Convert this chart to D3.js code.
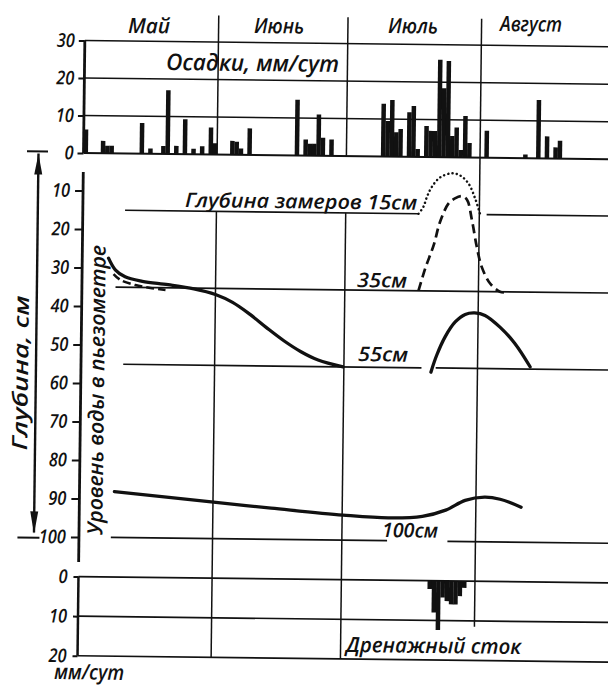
<!DOCTYPE html>
<html><head><meta charset="utf-8">
<script src="https://cdn.jsdelivr.net/npm/d3@7/dist/d3.min.js"></script>
<style>
 html,body{margin:0;padding:0;background:#fff;overflow:hidden;}
 svg{display:block;}
 text{font-family:"Open Sans","DejaVu Sans",sans-serif;font-style:italic;font-weight:600;fill:#111;}
</style></head><body>
<svg id="chart" width="608" height="688" viewBox="0 0 608 688"></svg>
<script>
// ---------------- data ----------------
const monthNames = ["Май", "Июнь", "Июль", "Август"];
const monthStartDay = [0, 31, 61, 92];          // day index from 1 May

const precipDay = [0,4,5,6,13,15,18,19,21,23,25,27,29,30,
                   34,35,36,38,49,51,52,53,54,55,57,
                   69,70,71,72,73,75,76,77,79,80,81,82,83,84,85,86,87,88,89,
                   93,102,105,107,109,110];
const precipMm  = [6.3,3.3,2.0,2.0,8.2,1.4,2.1,17.0,2.2,9.3,1.5,2.2,7.2,3.0,
                   3.7,3.5,1.7,7.1,14.9,4.3,3.2,3.2,11.0,4.8,4.4,
                   14.1,9.5,15.1,6.5,7.4,11.9,13.6,2.1,8.3,7.0,7.0,26.0,18.4,25.7,5.7,8.0,2.0,11.1,3.9,
                   7.2,1.0,15.6,5.9,3.0,4.8];

const drainDay = [81,82,83,84,85,86,87,88,89];
const drainMm  = [2.1,8.0,12.4,4.2,5.1,5.9,5.9,3.8,1.7];

const precipTicks = [0,10,20,30];
const depthTicks  = [10,20,30,40,50,60,70,80,90,100];
const drainTicks  = [0,10,20];

const levelDepths = [15,35,55,100];
const levelLabels = ["Глубина замеров 15см","35см","55см","100см"];
const levelSegments = [
  [[9.8,77.9],[93.7,125]],
  [[7.8,125]],
  [[9.8,79.0],[82.3,125]],
  [[7.4,71.5],[85.5,125]]
];

// piezometer water levels (day, depth cm)
const pz55EarlyDay   = [6.1,7.7,10,14,20,26,31,35,39,43,47,51,55,60.8];
const pz55EarlyDepth = [27.5,30.5,32.3,33.4,34.2,35.2,36.6,38.6,41.6,45.1,48.4,51.2,53.3,55.0];
const pz35EarlyDay   = [7.3,8.9,12.4,15.9,19.4];
const pz35EarlyDepth = [31.6,33.1,34.4,35.1,35.6];
const pz15Day   = [77.9,79.0,79.8,80.9,82.8,85.5,87.4,89.4,91.0,92.2];
const pz15Depth = [15,13.2,10.6,8.0,5.5,4.4,4.9,7.0,10.9,15];
const pz35Day   = [78.1,79.6,81.5,82.9,84.8,86.3,87.9,89.1,90.3,91.5,92.7,94.7,97.0,98.5];
const pz35Depth = [35,29.2,23.1,17.1,12.3,10.9,10.3,11.2,16.5,23.4,28.6,32.9,35.0,35.2];
const pz55Day   = [81.2,82.5,84.4,86.7,89.0,91.2,93.6,97.1,100.6,104.2];
const pz55Depth = [56.1,51.7,46.9,43.0,41.0,40.6,41.2,44.2,48.4,54.4];
const pz100Day   = [8.1,30.6,44.5,61.2,71.7,79.6,85.0,89.5,94.0,97.6,102.5];
const pz100Depth = [88.1,90.5,91.9,93.5,94.1,93.6,91.9,89.3,88.4,88.9,90.9];

// ---------------- layout ----------------
const svg = d3.select("#chart");
const ROT = 0.68;                 // slight skew of the scanned original
const g = svg.append("g").attr("transform", `rotate(${ROT},83,153)`);

const x  = d3.scaleLinear().domain([0, 122]).range([83.5, 83.5 + 4.31 * 122]);
const yP = d3.scaleLinear().domain([0, 30]).range([153, 40.5]);
const yD = d3.scaleLinear().domain([0, 100]).range([152, 537]);
const yB = d3.scaleLinear().domain([0, 20]).range([576.6, 655.8]);
const XEND = x(126);
const INK = "#111";

function hline(y, x1, x2, w) {
  g.append("line").attr("x1", x1).attr("x2", x2).attr("y1", y).attr("y2", y)
    .attr("stroke", INK).attr("stroke-width", w);
}
function vline(xx, y1, y2, w) {
  g.append("line").attr("x1", xx).attr("x2", xx).attr("y1", y1).attr("y2", y2)
    .attr("stroke", INK).attr("stroke-width", w);
}

// precipitation grid
precipTicks.forEach(v => hline(yP(v), x(0), XEND, v === 0 ? 2 : 1.6));
// drainage grid
drainTicks.forEach(v => hline(yB(v), x(0), XEND, 1.7));

// month separators
monthStartDay.slice(1).forEach((d, i) => {
  if (d === 92) {
    vline(x(d), 14, yB(11.5), 1.5);
  } else {
    vline(x(d), 14, yP(0), 1.5);
    vline(x(d), yD(15), yB(20), 1.5);
  }
});

// measurement depth lines
levelDepths.forEach((dep, i) => {
  levelSegments[i].forEach(s => hline(yD(dep), x(s[0]), x(s[1]), 1.7));
});

// precipitation bars
g.append("g").selectAll("rect").data(precipDay).join("rect")
  .attr("x", d => x(d)).attr("width", d => x(d + 1) - x(d) + 0.2)
  .attr("y", (d, i) => yP(precipMm[i]))
  .attr("height", (d, i) => yP(0) - yP(precipMm[i]))
  .attr("fill", INK);

// drainage bars (hanging down)
g.append("g").selectAll("rect").data(drainDay).join("rect")
  .attr("x", d => x(d)).attr("width", d => x(d + 1) - x(d) + 0.2)
  .attr("y", yB(0))
  .attr("height", (d, i) => yB(drainMm[i]) - yB(0))
  .attr("fill", INK);

// piezometer curves
function curve(days, depths, w, dash, cap) {
  const line = d3.line().x(d => x(d[0])).y(d => yD(d[1])).curve(d3.curveCatmullRom.alpha(0.5));
  g.append("path").attr("d", line(days.map((d, i) => [d, depths[i]])))
    .attr("fill", "none").attr("stroke", INK).attr("stroke-width", w)
    .attr("stroke-dasharray", dash).attr("stroke-linecap", cap || "butt");
}
curve(pz55EarlyDay, pz55EarlyDepth, 3.3, null, "round");
curve(pz35EarlyDay, pz35EarlyDepth, 2.5, "8,4");
curve(pz15Day, pz15Depth, 2.5, "0.1,4.2", "round");
curve(pz35Day, pz35Depth, 2.7, "9,5");
curve(pz55Day, pz55Depth, 3.3, null, "round");
curve(pz100Day, pz100Depth, 3.3, null, "round");

// axes
function styleAxis(sel) {
  sel.select(".domain").remove();
  sel.selectAll(".tick line").attr("stroke", INK).attr("stroke-width", 2);
  sel.selectAll(".tick text").attr("font-size", 19)
    .attr("textLength", d => String(d).length * 9)
    .attr("lengthAdjust", "spacingAndGlyphs");
}
g.append("g").attr("transform", `translate(${x(0)},0)`)
  .call(d3.axisLeft(yP).tickValues(precipTicks).tickSize(6).tickPadding(4).tickFormat(d3.format("d")))
  .call(styleAxis);
g.append("g").attr("transform", `translate(${x(0)},0)`)
  .call(d3.axisLeft(yD).tickValues(depthTicks).tickSize(8).tickPadding(5).tickFormat(d3.format("d")))
  .call(styleAxis);
g.append("g").attr("transform", `translate(${x(0)},0)`)
  .call(d3.axisLeft(yB).tickValues(drainTicks).tickSize(5).tickPadding(6).tickFormat(d3.format("d")))
  .call(styleAxis);

vline(x(0), yP(30), yP(0), 2.8);
vline(x(0), yD(5.2), yD(106.5), 2.8);
vline(x(0), yB(0), yB(20), 2.5);

// outer depth arrow
const AX = 38.5;
vline(AX, yD(0.5), yD(99), 2.4);
hline(yD(0), 27, 48, 2);
hline(yD(100.3), 22, 44, 2);
g.append("path").attr("d", `M${AX},${yD(0.6)} L${AX-4},${yD(6)} L${AX+4},${yD(6)} Z`).attr("fill", INK);
g.append("path").attr("d", `M${AX},${yD(99.3)} L${AX-4},${yD(93.5)} L${AX+4},${yD(93.5)} Z`).attr("fill", INK);

// ---------------- texts (placed at picture positions) ----------------
function label(txt, tx, ty, size, len, rot90) {
  const t = svg.append("text").attr("x", tx).attr("y", ty).attr("font-size", size)
    .attr("textLength", len).attr("lengthAdjust", "spacingAndGlyphs").text(txt);
  if (rot90) t.attr("text-anchor", "middle").attr("transform", `rotate(${-90 + ROT},${tx},${ty})`);
  else t.attr("transform", `rotate(${ROT},${tx},${ty})`);
  return t;
}
const monthCenters = [149, 279, 413, 531];
const monthWidths = [42, 50, 50, 62];
monthNames.forEach((m, i) => {
  label(m, monthCenters[i] - monthWidths[i] / 2, i === 3 ? 31 : 33, 21, monthWidths[i]);
});
label("Осадки, мм/сут", 166, 70, 23, 173);
label(levelLabels[0], 185, 207, 20, 232);
label(levelLabels[1], 357, 287, 20, 50);
label(levelLabels[2], 358, 361, 20, 50);
label(levelLabels[3], 382, 537, 20, 56);
label("Дренажный сток", 346, 652, 21, 175);
label("мм/сут", 54, 679, 21, 70);
label("Глубина, см", 28, 373, 21, 155, true);
label("Уровень воды в пьезометре", 104, 390, 21, 290, true);
</script>
</body></html>
